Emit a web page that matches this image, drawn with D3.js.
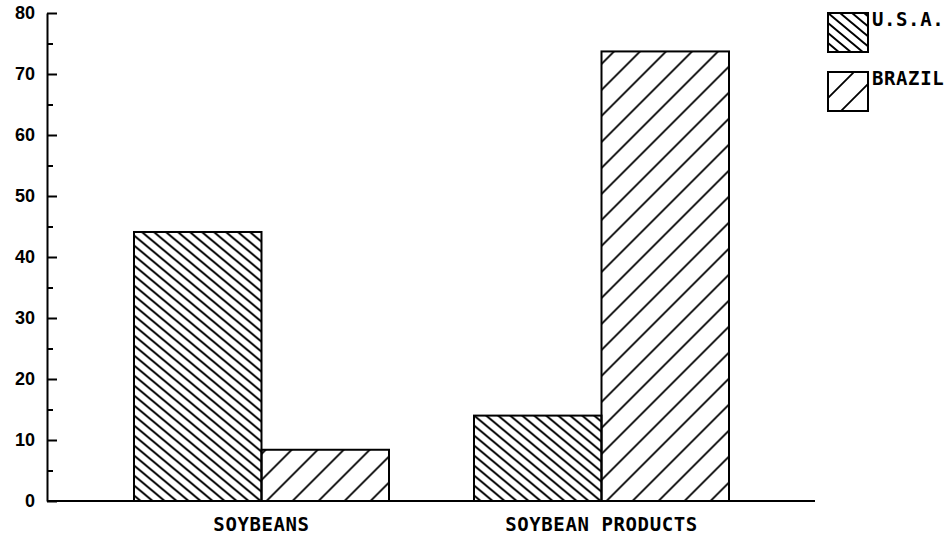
<!DOCTYPE html>
<html>
<head>
<meta charset="utf-8">
<script src="https://cdn.jsdelivr.net/npm/d3@7"></script>
<style>
  html, body { margin: 0; padding: 0; background: #fff; }
  svg { display: block; }
  .plotter { font-family: "DejaVu Sans Mono", monospace; font-size: 19px; font-weight: bold; letter-spacing: 0.6px; fill: #000; }
</style>
</head>
<body>
<svg id="chart" width="952" height="535"></svg>
<script>
// Export shares (%) by product and country
const categories = ["SOYBEANS", "SOYBEAN PRODUCTS"];
const seriesNames = ["U.S.A.", "BRAZIL"];
const usaValues = [44.1, 14.0];
const brazilValues = [8.4, 73.7];
const majorTicks = [0, 10, 20, 30, 40, 50, 60, 70, 80];
const minorTicks = [5, 15, 25, 35, 45, 55, 65, 75];

const seriesValues = { "U.S.A.": usaValues, "BRAZIL": brazilValues };
const rows = categories.map((c, i) => ({
  category: c,
  values: seriesNames.map(s => ({ series: s, value: seriesValues[s][i] }))
}));

const svg = d3.select("#chart");
const axisX = 47, axisRight = 815, baseY = 501, topY = 13;

// Hatch fills: dense "\\" for U.S.A., wide "/" for BRAZIL
const defs = svg.append("defs");
const usaPat = defs.append("pattern")
  .attr("id", "hatch-usa").attr("patternUnits", "userSpaceOnUse")
  .attr("width", 12).attr("height", 10);
usaPat.append("path")
  .attr("d", "M-12,-10L24,20 M0,-10L24,10 M-12,0L12,20")
  .attr("stroke", "#000").attr("stroke-width", 2).attr("fill", "none");

const brPat = defs.append("pattern")
  .attr("id", "hatch-brazil").attr("patternUnits", "userSpaceOnUse")
  .attr("width", 26).attr("height", 26);
brPat.append("path")
  .attr("d", "M-26,52L52,-26 M-26,26L26,-26 M0,52L52,0")
  .attr("stroke", "#000").attr("stroke-width", 1.8).attr("fill", "none");

const fills = { "U.S.A.": "url(#hatch-usa)", "BRAZIL": "url(#hatch-brazil)" };

// Scales
const y = d3.scaleLinear().domain([0, 80]).range([baseY, topY]);
const x0 = d3.scaleBand().domain(categories).range([91.5, 771.5]);
const x1 = d3.scaleBand().domain(seriesNames).range([0, x0.bandwidth()])
  .paddingInner(0).paddingOuter(1 / 3);

// Bars
const groups = svg.append("g").selectAll("g")
  .data(rows).join("g")
  .attr("transform", d => `translate(${x0(d.category)},0)`);
groups.selectAll("rect")
  .data(d => d.values).join("rect")
  .attr("x", d => x1(d.series))
  .attr("width", x1.bandwidth())
  .attr("y", d => y(d.value))
  .attr("height", d => y(0) - y(d.value))
  .attr("fill", d => fills[d.series])
  .attr("stroke", "#000")
  .attr("stroke-width", 2);

// Y axis: major ticks with labels, ticks pointing into the plot
const yAxis = svg.append("g")
  .attr("transform", `translate(${axisX},0)`)
  .call(d3.axisLeft(y).tickValues(majorTicks).tickSizeInner(-10).tickSizeOuter(0).tickPadding(12));
yAxis.select(".domain").attr("stroke", "#000").attr("stroke-width", 2);
yAxis.selectAll(".tick line").attr("stroke", "#000").attr("stroke-width", 2);
yAxis.selectAll(".tick text")
  .attr("font-family", "'Liberation Sans', Arial, sans-serif")
  .attr("font-size", 18).attr("font-weight", "bold").attr("fill", "#000");

// Minor ticks
const yMinor = svg.append("g")
  .attr("transform", `translate(${axisX},0)`)
  .call(d3.axisLeft(y).tickValues(minorTicks).tickSizeInner(-6).tickSizeOuter(0).tickFormat(""));
yMinor.select(".domain").remove();
yMinor.selectAll(".tick line").attr("stroke", "#000").attr("stroke-width", 2);

// X baseline
svg.append("line")
  .attr("x1", axisX).attr("x2", axisRight)
  .attr("y1", baseY).attr("y2", baseY)
  .attr("stroke", "#000").attr("stroke-width", 2);

// Category labels
const xAxis = svg.append("g")
  .attr("transform", `translate(0,${baseY})`)
  .call(d3.axisBottom(x0).tickSize(0).tickPadding(0));
xAxis.select(".domain").remove();
xAxis.selectAll(".tick text")
  .attr("class", "plotter")
  .attr("y", 30).attr("dy", null)
  .attr("font-size", null).attr("font-family", null);

// Legend
const legend = svg.append("g").selectAll("g")
  .data(seriesNames).join("g")
  .attr("transform", (d, i) => `translate(828,${13 + i * 59})`);
legend.append("rect")
  .attr("width", 40).attr("height", 39)
  .attr("fill", d => fills[d])
  .attr("stroke", "#000").attr("stroke-width", 2);
legend.append("text")
  .attr("class", "plotter")
  .attr("x", 44).attr("y", 12.5)
  .text(d => d);
</script>
</body>
</html>
